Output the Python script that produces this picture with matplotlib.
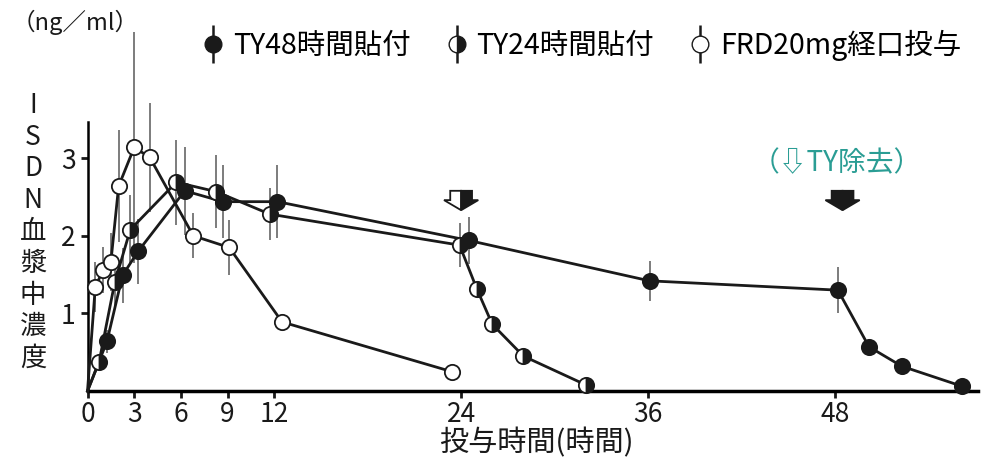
import matplotlib
matplotlib.use('Agg')
import matplotlib.pyplot as plt
from matplotlib.lines import Line2D
from matplotlib.patches import Polygon
from matplotlib.legend_handler import HandlerTuple

plt.rcParams['font.family'] = ['Noto Sans CJK JP', 'DejaVu Sans']

# TY48時間貼付 (filled)
ty48_t = [1.25, 2.25, 3.25, 6.25, 8.7, 12.2, 24.5, 36.1, 48.2, 50.2, 52.3, 56.2]
ty48_y = [0.64, 1.49, 1.80, 2.58, 2.44, 2.44, 1.94, 1.42, 1.30, 0.57, 0.32, 0.06]
ty48_e = [0.15, 0.35, 0.42, 0.57, 0.47, 0.47, 0.30, 0.26, 0.30, 0.07, 0.08, 0.07]

# TY24時間貼付 (half filled)
ty24_t = [0.75, 1.75, 2.75, 5.7, 8.25, 11.7, 23.9, 25.0, 26.0, 28.0, 32.0]
ty24_y = [0.38, 1.40, 2.08, 2.69, 2.57, 2.28, 1.88, 1.32, 0.86, 0.45, 0.08]
ty24_e = [0.10, 0.30, 0.44, 0.55, 0.47, 0.33, 0.28, 0.10, 0.08, 0.02, 0.06]

# FRD20mg経口投与 (open)
frd_t = [0.5, 1.0, 1.5, 2.0, 3.0, 4.0, 6.8, 9.1, 12.5, 23.4]
frd_y = [1.34, 1.56, 1.66, 2.64, 3.14, 3.01, 2.00, 1.85, 0.89, 0.25]
frd_e = [0.32, 0.30, 0.37, 0.72, 1.49, 0.70, 0.29, 0.35, 0.00, 0.07]

removal_t = [24.0, 48.5]
xticks = [0, 3, 6, 9, 12, 24, 36, 48]
yticks = [1, 2, 3]

fig = plt.figure(figsize=(10, 4.7), dpi=100)
ax = fig.add_axes([0.0875, 0.168, 0.8905, 0.573])

dark = '#1a1a1a'
ebc = '#666666'
ms = 11

series = [
    (ty48_t, ty48_y, ty48_e, dict(mfc=dark, mec=dark)),
    (ty24_t, ty24_y, ty24_e, dict(mfc=dark, mfcalt='white', fillstyle='right', mec=dark)),
    (frd_t, frd_y, frd_e, dict(mfc='white', mec=dark)),
]

for t, y, e, style in series:
    ax.errorbar(t, y, yerr=e, fmt='none', ecolor=ebc, elinewidth=1.2, capsize=0,
                clip_on=False, zorder=2)
    # lines start from origin
    ax.plot([0] + t, [0] + y, color=dark, lw=2, zorder=3, clip_on=False)
    ax.plot(t, y, 'o', ms=ms, mew=1.3, zorder=4, clip_on=False, **style)

ax.set_xlim(0, 57.2)
ax.set_ylim(0, 3.47)
ax.set_xticks(xticks)
ax.set_yticks(yticks)
ax.tick_params(axis='both', labelsize=19, width=2, length=5, color=dark, labelcolor=dark)
ax.tick_params(axis='x', pad=2)
for s in ['top', 'right']:
    ax.spines[s].set_visible(False)
ax.spines['bottom'].set_linewidth(2.5)
ax.spines['left'].set_linewidth(1.8)

ax.set_xlabel('投与時間(時間)', fontsize=21, labelpad=0, x=0.504, color=dark)

# removal arrows
for i, rt in enumerate(removal_t):
    hw, sw = 1.1, 0.7
    top, neck, tip = 2.58, 2.46, 2.33
    left = [(rt - sw, top), (rt, top), (rt, tip), (rt - hw, neck), (rt - sw, neck)]
    right = [(rt, top), (rt + sw, top), (rt + sw, neck), (rt + hw, neck), (rt, tip)]
    lc = 'white' if i == 0 else dark
    ax.add_patch(Polygon(left, closed=True, fc=lc, ec=dark, lw=1.3, zorder=5))
    ax.add_patch(Polygon(right, closed=True, fc=dark, ec=dark, lw=1.3, zorder=5))

ax.text(48.1, 2.93, '（⇩TY除去）', fontsize=20, color='#2a9d94', ha='center', va='center',
        family=['Noto Sans CJK JP', 'DejaVu Sans'])

fig.text(0.012, 1 - 22 / 470, '（ng／ml）', fontsize=17, ha='left', va='center', color=dark)
fig.text(0.033, 1 - 232 / 470, '\n'.join('ISDN血漿中濃度'), fontsize=19, ha='center',
         va='center', linespacing=1.22, color=dark)

vbar = dict(marker='|', ms=28, mew=1.8, color=dark, ls='none')
h1 = (Line2D([], [], **vbar), Line2D([], [], marker='o', ms=12, mfc=dark, mec=dark, ls='none'))
h2 = (Line2D([], [], **vbar), Line2D([], [], marker='o', ms=12, mfc=dark, mec=dark,
                                     fillstyle='right', mfcalt='white', ls='none'))
h3 = (Line2D([], [], **vbar), Line2D([], [], marker='o', ms=12, mfc='white', mec=dark, ls='none'))
fig.legend([h1, h2, h3], ['TY48時間貼付', 'TY24時間貼付', 'FRD20mg経口投与'],
           handler_map={tuple: HandlerTuple(ndivide=1)},
           loc='center', bbox_to_anchor=(0.583, 1 - 45 / 470), ncol=3, frameon=False,
           fontsize=20.5, handlelength=0.6, handletextpad=0.4, columnspacing=1.3)

fig.savefig('out.png', dpi=100)
